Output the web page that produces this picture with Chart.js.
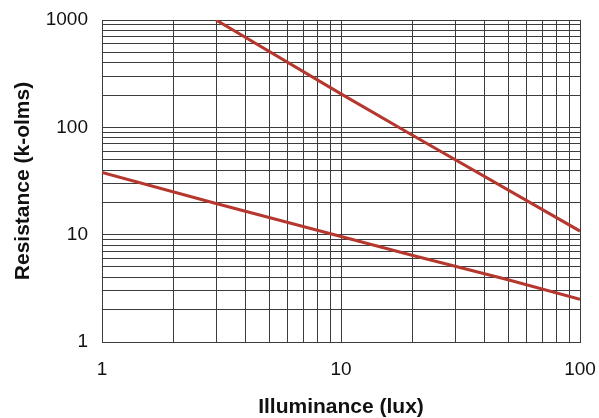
<!DOCTYPE html>
<html>
<head>
<meta charset="utf-8">
<script src="https://cdn.jsdelivr.net/npm/chart.js@4/dist/chart.umd.min.js"></script>
<style>
  html, body { margin: 0; padding: 0; background: #fff; }
  #wrap { width: 599px; height: 418px; position: relative; }
</style>
</head>
<body>
<div id="wrap"><canvas id="c" width="599" height="418"></canvas></div>
<script>
// Data
const upperLux = [3, 10, 20, 100];
const upperRes = [1000, 205, 84, 10.8];
const lowerLux = [1, 3, 10, 20, 50, 100];
const lowerRes = [38, 19.5, 9.6, 6.4, 3.8, 2.5];

// Grid / tick values
const xGridValues = [1,2,3,4,5,6,7,8,9,10,20,30,40,50,60,70,80,90,100];
const yGridValues = [1,2,3,4,5,6,7,8,9,10,20,30,40,50,60,70,80,90,100,200,300,400,500,600,700,800,900,1000];
const xTickLabels = [1, 10, 100];
const yTickLabels = [1, 10, 100, 1000];

const lineColor = '#b5372d';
const gridColor = '#3c3c3c';

function toPoints(xs, ys) { return xs.map((x, i) => ({ x: x, y: ys[i] })); }

new Chart(document.getElementById('c'), {
  type: 'line',
  data: {
    datasets: [
      { data: toPoints(upperLux, upperRes), borderColor: lineColor, borderWidth: 3, pointRadius: 0, tension: 0, fill: false },
      { data: toPoints(lowerLux, lowerRes), borderColor: lineColor, borderWidth: 3, pointRadius: 0, tension: 0, fill: false }
    ]
  },
  options: {
    responsive: false,
    animation: false,
    events: [],
    layout: { padding: { top: 20, right: 19, bottom: 0, left: 0 } },
    plugins: { legend: { display: false }, tooltip: { enabled: false } },
    scales: {
      x: {
        type: 'logarithmic',
        min: 1, max: 100,
        afterBuildTicks: s => { s.ticks = xGridValues.map(v => ({ value: v })); },
        afterFit: s => { s.height = 76; s.paddingLeft = 0; s.paddingRight = 0; },
        grid: { color: gridColor, lineWidth: 1, drawTicks: false },
        border: { display: true, color: gridColor, width: 1 },
        ticks: {
          autoSkip: false, maxRotation: 0, padding: 16,
          color: '#111',
          font: { family: 'Liberation Sans, Arial, sans-serif', size: 19 },
          callback: v => xTickLabels.includes(v) ? String(v) : ''
        },
        title: {
          display: true, text: 'Illuminance (lux)', color: '#111',
          font: { family: 'Liberation Sans, Arial, sans-serif', size: 21, weight: 'bold', lineHeight: 1 },
          padding: { top: 0, bottom: 0 }
        }
      },
      y: {
        type: 'logarithmic',
        min: 1, max: 1000,
        afterBuildTicks: s => { s.ticks = yGridValues.map(v => ({ value: v })); },
        afterFit: s => { s.width = 102; s.paddingTop = 0; s.paddingBottom = 0; },
        grid: { color: gridColor, lineWidth: 1, drawTicks: false },
        border: { display: true, color: gridColor, width: 1 },
        ticks: {
          autoSkip: false, padding: 14,
          color: '#111',
          font: { family: 'Liberation Sans, Arial, sans-serif', size: 19 },
          callback: v => yTickLabels.includes(v) ? String(v) : ''
        },
        title: {
          display: true, text: 'Resistance (k-olms)', color: '#111',
          font: { family: 'Liberation Sans, Arial, sans-serif', size: 21, weight: 'bold', lineHeight: 1.2 },
          padding: { top: 11, bottom: 0 }
        }
      }
    }
  }
});
</script>
</body>
</html>
